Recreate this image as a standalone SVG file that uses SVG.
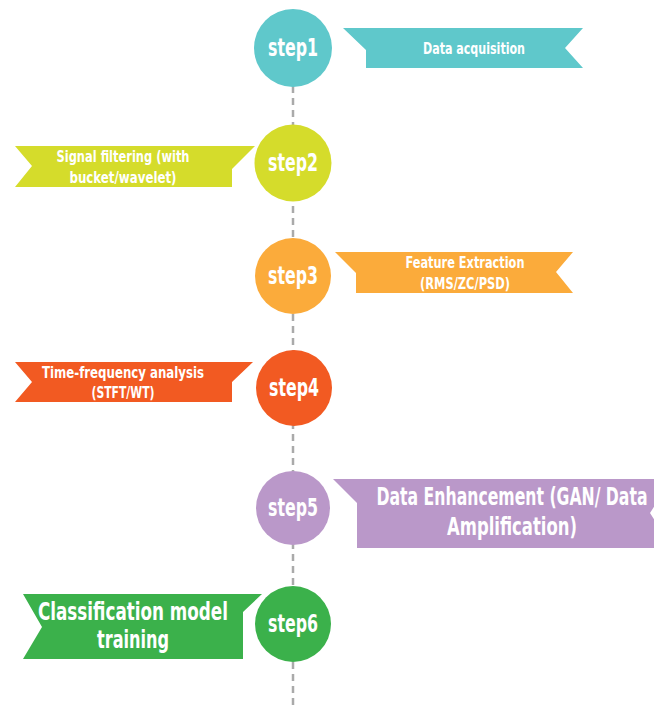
<svg xmlns="http://www.w3.org/2000/svg" width="654" height="709" viewBox="0 0 654 709">
  <style>
    .lbl { font-family: "Liberation Sans Narrow", "DejaVu Sans Condensed", "Roboto", sans-serif; font-weight: bold; fill: #ffffff; text-anchor: middle; dominant-baseline: central; }
    .step { font-size: 24px; }
    .txt { font-size: 16px; }
    .big { font-size: 24px; }
    .spine { stroke: #aaaaaa; stroke-width: 2.5; stroke-dasharray: 7 5; fill: none; }
  </style>

  <!-- timeline spine -->
  <g id="connectors">
    <line class="spine" x1="293" y1="86" x2="293" y2="709"/>
  </g>

  <g id="step1">
    <circle cx="293" cy="48" r="39" fill="#5fc8cb"/>
    <text class="lbl step" x="293" y="48" textLength="50" lengthAdjust="spacingAndGlyphs">step1</text>
    <polygon points="343,28 583,28 565,48 583,68 366,68 366,50" fill="#5fc8cb"/>
    <text class="lbl txt" x="474" y="48" textLength="102" lengthAdjust="spacingAndGlyphs">Data acquisition</text>
  </g>

  <g id="step2">
    <circle cx="293" cy="163" r="38.5" fill="#d5dc2b"/>
    <text class="lbl step" x="293" y="163" textLength="50" lengthAdjust="spacingAndGlyphs">step2</text>
    <polygon points="15,146 255,146 232,169 232,187 15,187 32,166" fill="#d5dc2b"/>
    <text class="lbl txt" x="123" y="156" textLength="133" lengthAdjust="spacingAndGlyphs">Signal filtering (with</text>
    <text class="lbl txt" x="123" y="177" textLength="107" lengthAdjust="spacingAndGlyphs">bucket/wavelet)</text>
  </g>

  <g id="step3">
    <circle cx="293" cy="276" r="38" fill="#fbab3b"/>
    <text class="lbl step" x="293" y="276" textLength="50" lengthAdjust="spacingAndGlyphs">step3</text>
    <polygon points="335,252 573,252 556,272 573,293 356,293 356,273" fill="#fbab3b"/>
    <text class="lbl txt" x="465" y="262" textLength="119" lengthAdjust="spacingAndGlyphs">Feature Extraction</text>
    <text class="lbl txt" x="465" y="283" textLength="90" lengthAdjust="spacingAndGlyphs">(RMS/ZC/PSD)</text>
  </g>

  <g id="step4">
    <circle cx="294" cy="388" r="38" fill="#f25a22"/>
    <text class="lbl step" x="294" y="388" textLength="50" lengthAdjust="spacingAndGlyphs">step4</text>
    <polygon points="15,362 253,362 232,382 232,402 15,402 32,382" fill="#f25a22"/>
    <text class="lbl txt" x="123" y="372" textLength="162" lengthAdjust="spacingAndGlyphs">Time-frequency analysis</text>
    <text class="lbl txt" x="123" y="392" textLength="63" lengthAdjust="spacingAndGlyphs">(STFT/WT)</text>
  </g>

  <g id="step5">
    <circle cx="293" cy="508" r="37" fill="#ba98c9"/>
    <text class="lbl step" x="293" y="508" textLength="50" lengthAdjust="spacingAndGlyphs">step5</text>
    <polygon points="333,479 672,479 650,513 672,548 357,548 357,503" fill="#ba98c9"/>
    <text class="lbl big" x="512" y="497" textLength="271" lengthAdjust="spacingAndGlyphs">Data Enhancement (GAN/ Data</text>
    <text class="lbl big" x="512" y="527" textLength="130" lengthAdjust="spacingAndGlyphs">Amplification)</text>
  </g>

  <g id="step6">
    <circle cx="293" cy="624" r="38" fill="#3bb14b"/>
    <text class="lbl step" x="293" y="624" textLength="50" lengthAdjust="spacingAndGlyphs">step6</text>
    <polygon points="23,594 262,594 243,612 243,659 23,659 42,627" fill="#3bb14b"/>
    <text class="lbl big" x="133" y="612" textLength="190" lengthAdjust="spacingAndGlyphs">Classification model</text>
    <text class="lbl big" x="133" y="640" textLength="72" lengthAdjust="spacingAndGlyphs">training</text>
  </g>
</svg>
